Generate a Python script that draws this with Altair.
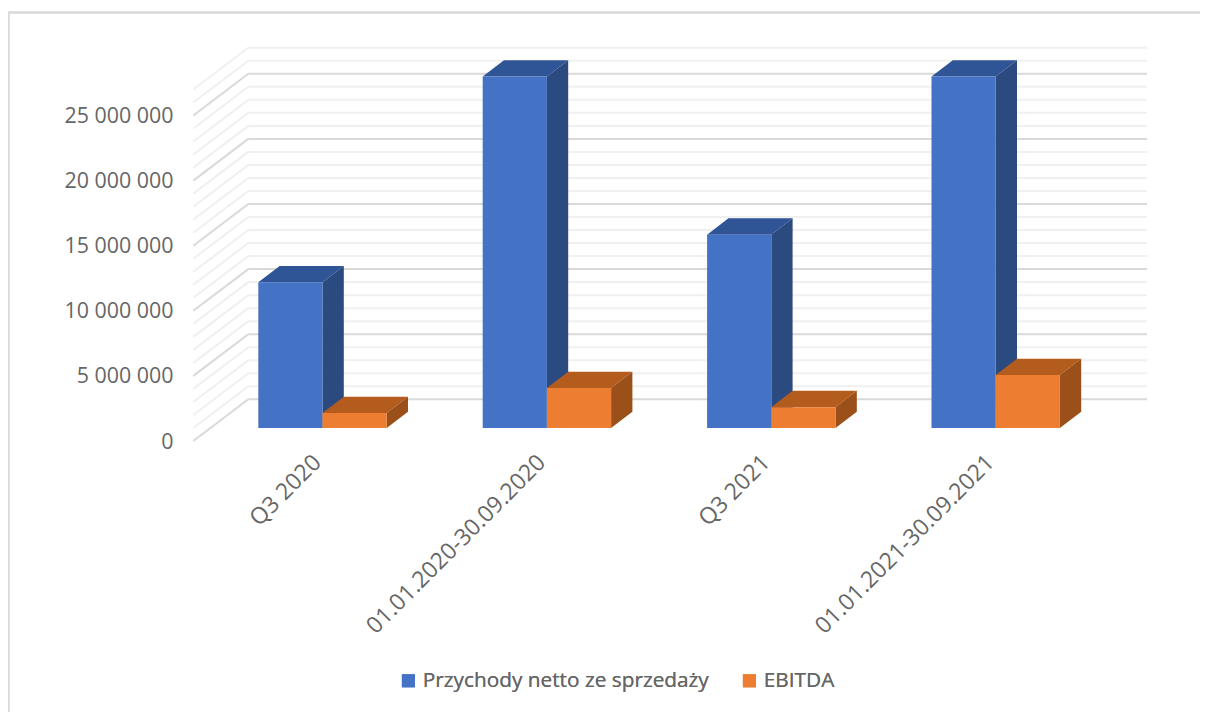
import altair as alt
import pandas as pd

categories = ["Q3 2020", "01.01.2020-30.09.2020", "Q3 2021", "01.01.2021-30.09.2021"]
series = ["Przychody netto ze sprzedaży", "EBITDA"]
revenue = [11200000, 27000000, 14850000, 27000000]
ebitda = [1150000, 3070000, 1600000, 4070000]
axis_ticks = [0, 5000000, 10000000, 15000000, 20000000, 25000000]
grid_levels = list(range(0, 28000000, 1000000))

FONT = "Open Sans"
TEXT = "#666666"
FRONT = {"Przychody netto ze sprzedaży": "#4472C4", "EBITDA": "#ED7D31"}
TOP = {"Przychody netto ze sprzedaży": "#2F5597", "EBITDA": "#B35C1E"}
SIDE = {"Przychody netto ze sprzedaży": "#2A4A80", "EBITDA": "#9A5018"}

PXM = 13.02 / 1e6            # screen px per unit of value
ZERO = 441.0                 # screen y of value 0 at the front of the floor
def val(py):
    return (ZERO - py) / PXM

BASE = val(428)              # bars stand a little behind the front edge
DEPTH_Y = 16.3 / PXM
DEPTH_X = 21.3
WALL_Y = 41.7 / PXM
WALL_L, WALL_R, FLOOR_L = 248.3, 1147.0, 193.3
BAR_W, FIRST, PITCH = 64.2, 258.3, 224.4
W, H = 1192, 704

x_scale = alt.Scale(domain=[8, 8 + W], nice=False, zero=False)
y_scale = alt.Scale(domain=[val(8 + H), val(8)], nice=False, zero=False)

fronts, tops, sides = [], [], []
for si, (name, vals) in enumerate(zip(series, [revenue, ebitda])):
    for ci, v in enumerate(vals):
        l = FIRST + PITCH * ci + BAR_W * si
        r = l + BAR_W
        t = BASE + v
        fronts.append(dict(s=name, si=si, l=l, r=r, b=BASE, t=t))
        tops.append(dict(id=f"{si}{ci}", s=name, si=si, y=t, x=l, x2=r))
        tops.append(dict(id=f"{si}{ci}", s=name, si=si, y=t + DEPTH_Y, x=l + DEPTH_X, x2=r + DEPTH_X))
        sides.append(dict(id=f"{si}{ci}", s=name, si=si, x=r, y=BASE, y2=t))
        sides.append(dict(id=f"{si}{ci}", s=name, si=si, x=r + DEPTH_X, y=BASE + DEPTH_Y, y2=t + DEPTH_Y))
fronts, tops, sides = map(pd.DataFrame, (fronts, tops, sides))

grid = pd.DataFrame([dict(v=g, y=g + WALL_Y, major=g % 5000000 == 0, x=WALL_L, x2=WALL_R) for g in grid_levels])
diag = pd.DataFrame(
    [dict(v=g, major=g % 5000000 == 0, x=FLOOR_L, y=g) for g in grid_levels]
    + [dict(v=g, major=g % 5000000 == 0, x=WALL_L, y=g + WALL_Y) for g in grid_levels]
)
labels = pd.DataFrame([dict(c=c, x=FIRST + PITCH * i + BAR_W - 5, y=val(459)) for i, c in enumerate(categories)])

y_axis = alt.Axis(
    values=axis_ticks, title=None, domain=False, ticks=False, grid=False, orient="left",
    offset=-165, labelPadding=0, labelOffset=1, labelFont=FONT, labelFontSize=21.4, labelColor=TEXT,
    labelExpr="replace(format(datum.value, ','), regexp(',', 'g'), ' ')")

X = lambda f="x": alt.X(f"{f}:Q", scale=x_scale, axis=None)
Y = lambda f="y": alt.Y(f"{f}:Q", scale=y_scale, axis=y_axis, title=None)
grid_color = alt.Color("major:N", scale=alt.Scale(domain=[False, True], range=["#F0F0F0", "#D9D9D9"]), legend=None)

frame_top = alt.Chart(pd.DataFrame({"x": [8], "x2": [8 + W], "y": [val(12.5)]})).mark_rule(color="#D9D9D9", strokeWidth=2.5).encode(
    x=X(), x2="x2:Q", y=Y())
frame_left = alt.Chart(pd.DataFrame({"x": [8.5], "y": [val(12.5)], "y2": [val(8 + H)]})).mark_rule(color="#D9D9D9", strokeWidth=2.5).encode(
    x=X(), y=Y(), y2="y2:Q")

wall = alt.Chart(grid).mark_rule(strokeWidth=2).encode(x=X(), x2="x2:Q", y=Y(), color=grid_color)
floor = alt.Chart(diag).mark_line(strokeWidth=2).encode(x=X(), y=Y(), detail="v:Q", color=grid_color)


def bars(si, legend):
    f = fronts[fronts.si == si]
    t = tops[tops.si == si]
    s = sides[sides.si == si]
    top_l = alt.Chart(t).mark_area(orient="horizontal", color=TOP[series[si]]).encode(
        x=X(), x2="x2:Q", y=Y(), detail="id:N")
    side_l = alt.Chart(s).mark_area(orient="vertical", color=SIDE[series[si]]).encode(
        x=X(), y=Y(), y2="y2:Q", detail="id:N")
    front_l = alt.Chart(f).mark_rect().encode(
        x=X("l"), x2="r:Q", y=Y("b"), y2="t:Q",
        color=alt.Color("s:N", scale=alt.Scale(domain=series, range=[FRONT[n] for n in series]), legend=legend),
    )
    return [top_l, side_l, front_l]


legend = alt.Legend(
    orient="none", legendX=390, legendY=662, direction="horizontal", title=None,
    symbolType="square", symbolSize=170, symbolStrokeWidth=0, labelFont=FONT, labelFontSize=20.8,
    labelColor=TEXT, columnPadding=30, labelOffset=4, padding=0, values=series, labelLimit=500,
)

cat_text = alt.Chart(labels).mark_text(
    angle=315, align="right", baseline="middle", font=FONT, fontSize=23, color=TEXT
).encode(x=X(), y=Y(), text="c:N")

chart = alt.layer(
    frame_top, frame_left, wall, floor,
    *bars(0, legend), *bars(1, legend), cat_text,
).resolve_scale(color="independent").properties(
    width=W, height=H, padding=0, background="white",
    autosize=alt.AutoSizeParams(type="none"),
).configure_view(stroke=None)

chart.save("out.html", embed_options={"renderer": "svg", "actions": False})
